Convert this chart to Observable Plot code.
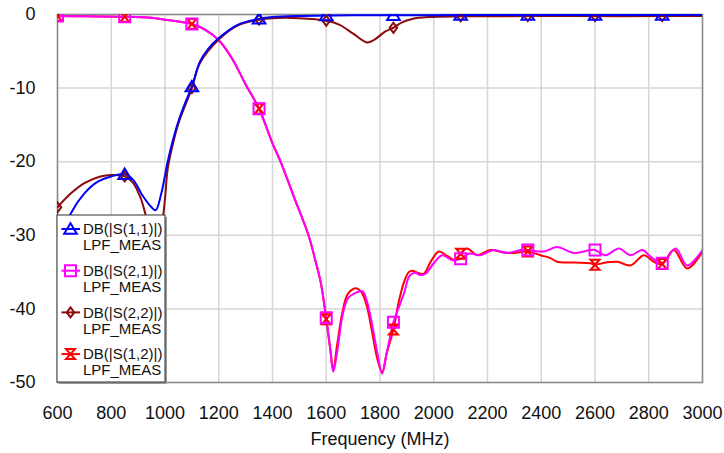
<!DOCTYPE html>
<html><head><meta charset="utf-8">
<script src="https://cdn.jsdelivr.net/npm/d3@7"></script>
<script src="https://cdn.jsdelivr.net/npm/@observablehq/plot@0.6"></script>
<style>
html,body{margin:0;padding:0;background:#fff;}
#wrap{position:relative;width:724px;height:453px;font-family:"Liberation Sans",Arial,sans-serif;}
#legend{position:absolute;left:56px;top:214px;}
</style></head><body><div id="wrap"></div>
<script>
// ---- data ----
const markerFreqs = [600, 850, 1100, 1350, 1600, 1850, 2100, 2350, 2600, 2850];
const xTicks = [600, 800, 1000, 1200, 1400, 1600, 1800, 2000, 2200, 2400, 2600, 2800, 3000];
const yTicks = [0, -10, -20, -30, -40, -50];
const seriesNames = ["DB(|S(1,1)|)", "DB(|S(2,1)|)", "DB(|S(2,2)|)", "DB(|S(1,2)|)"];
const sourceName = "LPF_MEAS";

const s11Freq = [600,620,650,700,750,800,850,880,920,950,965,985,1010,1030,1050,1075,1100,1130,1160,1200,1270,1350,1400,1500,1600,1700,1850,2100,2350,2600,2850,3000];
const s11dB   = [-33,-30,-27,-24.3,-22.7,-22,-21.7,-22.4,-24.8,-26.2,-26.6,-24.5,-20,-17,-14.5,-12,-9.8,-6.4,-4.7,-3.2,-1.4,-0.6,-0.35,-0.2,-0.15,-0.1,-0.1,-0.08,-0.08,-0.08,-0.08,-0.05];

const s21Freq = [600,700,850,950,1000,1050,1100,1150,1200,1250,1300,1350,1400,1430,1480,1534,1560,1580,1600,1615,1626,1640,1660,1680,1705,1734,1750,1770,1790,1808,1825,1850,1870,1890,1910,1930,1950,1970,2000,2031,2070,2100,2130,2174,2223,2273,2323,2350,2409,2459,2521,2583,2600,2639,2689,2732,2776,2807,2850,2900,2943,3000];
const s21dB   = [-0.2,-0.25,-0.3,-0.45,-0.7,-0.95,-1.3,-2.1,-3.5,-6,-9.5,-12.8,-17.5,-20,-24.8,-30,-33.5,-36.5,-41.2,-45.5,-48.5,-46,-41,-38.6,-37.9,-37.6,-38.8,-42,-46,-48.8,-46,-41.8,-39.8,-37.8,-35.5,-35.1,-35.4,-35.2,-33.8,-32.7,-33.4,-33.2,-32.5,-32.7,-32,-32.4,-32,-32,-32.2,-31.6,-32.4,-32,-32,-32.7,-31.8,-32.7,-32,-32.9,-33.8,-31.8,-34.1,-32];

const s22Freq = [600,650,700,760,800,850,880,910,930,950,970,990,1000,1010,1030,1050,1100,1130,1200,1270,1350,1400,1500,1600,1650,1700,1752,1780,1820,1850,1880,1920,1980,2100,2350,2600,2850,3000];
const s22dB   = [-26.2,-24.3,-22.9,-22,-21.8,-22,-22.8,-25,-27.5,-30,-30.5,-28,-25,-21,-17.5,-14.8,-10,-6.6,-3.4,-1.5,-0.7,-0.5,-0.5,-0.85,-1.4,-2.6,-3.8,-3.4,-2.3,-1.8,-1.1,-0.6,-0.35,-0.25,-0.22,-0.22,-0.22,-0.2];

const s12Freq = [600,700,850,950,1000,1050,1100,1150,1200,1250,1300,1350,1400,1430,1480,1534,1560,1580,1600,1615,1626,1640,1660,1680,1709,1730,1750,1770,1790,1808,1825,1850,1870,1890,1907,1920,1940,1963,1990,2019,2050,2081,2100,2124,2162,2211,2255,2298,2350,2397,2434,2459,2521,2583,2600,2640,2683,2732,2782,2819,2850,2893,2943,3000];
const s12dB   = [-0.2,-0.25,-0.3,-0.45,-0.7,-0.95,-1.3,-2.1,-3.5,-6,-9.5,-12.8,-17.5,-20,-24.8,-30,-33.5,-36.5,-41.4,-45.5,-48.3,-45,-40.5,-38,-37.2,-37.7,-39.5,-43,-46.8,-48.6,-46,-42.8,-39,-36.3,-35,-34.8,-35.1,-35.2,-33.5,-32.2,-32.8,-33.4,-32.5,-31.8,-32.7,-32,-32.3,-32.4,-32.2,-32.7,-33.1,-33.6,-33.7,-33.8,-34,-33.7,-33.6,-34.1,-32.7,-33.6,-33.9,-32,-34.5,-32.2];

// ---- symbols ----
const rOf = s => Math.sqrt(s / Math.PI);
const symTriangle = {draw(c, s){const r = rOf(s); c.moveTo(0,-r*1.05); c.lineTo(r*1.15,r*0.85); c.lineTo(-r*1.15,r*0.85); c.closePath();}};
const symSquare = {draw(c, s){const r = rOf(s); c.moveTo(-r,-r); c.lineTo(r,-r); c.lineTo(r,r); c.lineTo(-r,r); c.closePath();}};
const symDiamond = {draw(c, s){const r = rOf(s); c.moveTo(0,-r); c.lineTo(r*0.75,0); c.lineTo(0,r); c.lineTo(-r*0.75,0); c.closePath();}};
const symHourglass = {draw(c, s){const r = rOf(s); c.moveTo(-r*0.9,-r); c.lineTo(r*0.9,-r); c.lineTo(-r*0.9,r); c.lineTo(r*0.9,r); c.closePath();}};

const series = [
  {name: seriesNames[3], f: s12Freq, db: s12dB, color: "#ff0000", symbol: symHourglass, r: 5, legendIdx: 3},
  {name: seriesNames[1], f: s21Freq, db: s21dB, color: "#ff00ff", symbol: symSquare, r: 5.5, legendIdx: 1},
  {name: seriesNames[2], f: s22Freq, db: s22dB, color: "#8b0a0a", symbol: symDiamond, r: 5, legendIdx: 2},
  {name: seriesNames[0], f: s11Freq, db: s11dB, color: "#0000ff", symbol: symTriangle, r: 5.5, legendIdx: 0}
];

const lineMarks = [];
const dotMarks = [];
for (const s of series) {
  const rows = s.f.map((f, i) => ({f, db: s.db[i]}));
  lineMarks.push(Plot.line(rows, {x: "f", y: "db", stroke: s.color, strokeWidth: 2, curve: "catmull-rom", clip: true}));
  const mrows = rows.filter(d => markerFreqs.includes(d.f));
  dotMarks.push(Plot.dot(mrows, {x: "f", y: "db", stroke: s.color, fill: "none", strokeWidth: 2, symbol: s.symbol, r: s.r, clip: true}));
}

const chart = Plot.plot({
  width: 724, height: 453,
  marginLeft: 57, marginRight: 22, marginTop: 14, marginBottom: 71,
  style: {fontFamily: "'Liberation Sans', Arial, sans-serif", fontSize: "18px", color: "#111", background: "#fff"},
  x: {domain: [600, 3000]},
  y: {domain: [-50, 0]},
  marks: [
    Plot.gridX(xTicks, {stroke: "#d6d6d6", strokeOpacity: 1, strokeWidth: 1.5}),
    Plot.gridY(yTicks, {stroke: "#d6d6d6", strokeOpacity: 1, strokeWidth: 1.5}),
    Plot.frame({stroke: "#8a8a8a", strokeWidth: 1.5}),
    Plot.axisX(xTicks, {tickSize: 0, tickPadding: 24, tickFormat: d => String(d), label: "Frequency (MHz)", labelAnchor: "center", labelArrow: "none", labelOffset: 62, fill: "#111"}),
    Plot.axisY(yTicks, {tickSize: 0, tickPadding: 22, tickFormat: d => String(d), label: null, fill: "#111"}),
    ...lineMarks,
    ...dotMarks
  ]
});
const wrap = document.getElementById("wrap");
wrap.appendChild(chart);

// ---- legend overlay ----
const legendOrder = [3, 1, 2, 0].map(i => series[i]); // S11, S21, S22, S12
const lg = d3.select(wrap).append("svg").attr("id", "legend").attr("width", 114).attr("height", 174);
lg.append("rect").attr("x", 3).attr("y", 3).attr("width", 108).attr("height", 167).attr("fill", "#9a9a9a");
lg.append("rect").attr("x", 1).attr("y", 1).attr("width", 108).attr("height", 167).attr("fill", "#fff").attr("stroke", "#333").attr("stroke-width", 1);
legendOrder.forEach((s, i) => {
  const cy = 15 + i * 41.7;
  const g = lg.append("g");
  g.append("line").attr("x1", 5.5).attr("x2", 24).attr("y1", cy).attr("y2", cy).attr("stroke", s.color).attr("stroke-width", 2);
  g.append("path").attr("d", d3.symbol(s.symbol, Math.PI * s.r * s.r)()).attr("transform", `translate(14.5,${cy})`).attr("fill", "none").attr("stroke", s.color).attr("stroke-width", 2);
  g.append("text").attr("x", 27).attr("y", cy).attr("dy", "0.35em").attr("font-size", "15px").attr("font-family", "'Liberation Sans', Arial, sans-serif").attr("fill", "#111").text(s.name);
  g.append("text").attr("x", 27).attr("y", cy + 16).attr("dy", "0.35em").attr("font-size", "15px").attr("font-family", "'Liberation Sans', Arial, sans-serif").attr("fill", "#111").text(sourceName);
});
</script>
</body></html>
